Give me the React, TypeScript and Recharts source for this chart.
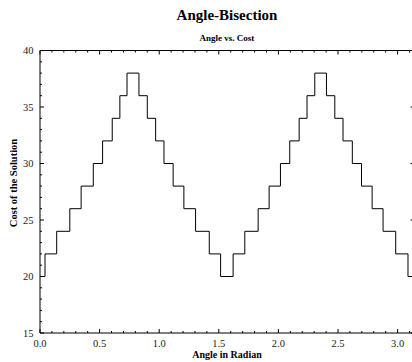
import React from 'react';
import { LineChart, Line, XAxis, YAxis } from 'recharts';

// step changes of the cost
const angles = [0, 0.042, 0.14, 0.25, 0.345, 0.447, 0.525, 0.606, 0.67, 0.73, 0.83, 0.9, 0.97, 1.04, 1.117, 1.207, 1.305, 1.42, 1.515, 1.62, 1.718, 1.83, 1.922, 2.017, 2.095, 2.174, 2.24, 2.305, 2.403, 2.473, 2.542, 2.62, 2.697, 2.786, 2.878, 2.984, 3.087, 3.1416];
const costs = [20, 22, 24, 26, 28, 30, 32, 34, 36, 38, 36, 34, 32, 30, 28, 26, 24, 22, 20, 22, 24, 26, 28, 30, 32, 34, 36, 38, 36, 34, 32, 30, 28, 26, 24, 22, 20, 20];

const xTicks = [0, 0.1, 0.2, 0.3, 0.4, 0.5, 0.6, 0.7, 0.8, 0.9, 1.0, 1.1, 1.2, 1.3, 1.4, 1.5, 1.6, 1.7, 1.8, 1.9, 2.0, 2.1, 2.2, 2.3, 2.4, 2.5, 2.6, 2.7, 2.8, 2.9, 3.0, 3.1];
const yTicks = [15, 16, 17, 18, 19, 20, 21, 22, 23, 24, 25, 26, 27, 28, 29, 30, 31, 32, 33, 34, 35, 36, 37, 38, 39, 40];
const yMajor = [15, 20, 25, 30, 35, 40];

const data = angles.map((a, i) => ({ angle: a, cost: costs[i] }));

const FONT = '"Liberation Serif", "Times New Roman", serif';
const isMajorX = (v: number) => Math.abs(v * 2 - Math.round(v * 2)) < 1e-6;

const BottomTick = (props: any) => {
  const { x, y, payload } = props;
  const major = isMajorX(payload.value);
  return (
    <g>
      <line x1={x} x2={x} y1={y} y2={y - (major ? 4 : 2)} stroke="#000" />
      {major && (
        <text x={x} y={y + 14} textAnchor="middle" fontSize={10.5} fontFamily={FONT} fill="#222">
          {payload.value.toFixed(1)}
        </text>
      )}
    </g>
  );
};

const TopTick = (props: any) => {
  const { x, y, payload } = props;
  const major = isMajorX(payload.value);
  return <line x1={x} x2={x} y1={y} y2={y + (major ? 4 : 2)} stroke="#000" />;
};

const LeftTick = (props: any) => {
  const { x, y, payload } = props;
  const major = yMajor.includes(payload.value);
  return (
    <g>
      <line x1={x} x2={x + (major ? 4 : 2)} y1={y} y2={y} stroke="#000" />
      {major && (
        <text x={x - 6.5} y={y + 3.7} textAnchor="end" fontSize={10.5} fontFamily={FONT} fill="#222">
          {payload.value}
        </text>
      )}
    </g>
  );
};

const RightTick = (props: any) => {
  const { x, y } = props;
  return <line x1={x} x2={x - 4} y1={y} y2={y} stroke="#000" />;
};

export default function App() {
  return (
    <div style={{ position: 'absolute', left: 0, top: 0, width: 412, height: 362, overflow: 'hidden', background: '#fff' }}>
      <LineChart
        width={420}
        height={362}
        data={data}
        margin={{ top: 40.5, left: 10, right: 0.5, bottom: 9 }}
      >
        <XAxis
          xAxisId="bottom"
          dataKey="angle"
          type="number"
          domain={[0, 3.1416]}
          ticks={xTicks}
          interval={0}
          height={20}
          tickSize={0}
          tickMargin={0}
          tick={<BottomTick />}
          stroke="#000"
          allowDataOverflow
        />
        <XAxis
          xAxisId="top"
          orientation="top"
          dataKey="angle"
          type="number"
          domain={[0, 3.1416]}
          ticks={xTicks}
          interval={0}
          height={10}
          tickSize={0}
          tickMargin={0}
          tick={<TopTick />}
          stroke="#000"
          allowDataOverflow
        />
        <YAxis
          yAxisId="left"
          type="number"
          domain={[15, 40]}
          ticks={yTicks}
          interval={0}
          width={30}
          tickSize={0}
          tickMargin={0}
          tick={<LeftTick />}
          stroke="#000"
          allowDataOverflow
        />
        <YAxis
          yAxisId="right"
          orientation="right"
          type="number"
          domain={[15, 40]}
          ticks={yMajor}
          interval={0}
          width={5}
          tickSize={0}
          tickMargin={0}
          tick={<RightTick />}
          stroke="#000"
          allowDataOverflow
        />
        <Line
          xAxisId="bottom"
          yAxisId="left"
          type="stepAfter"
          dataKey="cost"
          stroke="#000"
          strokeWidth={1}
          dot={false}
          activeDot={false}
          isAnimationActive={false}
        />
        <Line
          xAxisId="top"
          yAxisId="right"
          type="stepAfter"
          dataKey="cost"
          stroke="none"
          dot={false}
          activeDot={false}
          isAnimationActive={false}
        />
      </LineChart>
      <svg width={412} height={362} style={{ position: 'absolute', left: 0, top: 0, pointerEvents: 'none' }}>
        <text x={227} y={20} textAnchor="middle" fontSize={15} fontWeight="bold" fontFamily={FONT} fill="#000">
          Angle-Bisection
        </text>
        <text x={227} y={41} textAnchor="middle" fontSize={9} fontWeight="bold" fontFamily={FONT} fill="#000">
          Angle vs. Cost
        </text>
        <text x={227} y={358} textAnchor="middle" fontSize={10} fontWeight="bold" fontFamily={FONT} fill="#000">
          Angle in Radian
        </text>
        <text
          x={0}
          y={0}
          transform="translate(17 183) rotate(-90)"
          textAnchor="middle"
          fontSize={10.5}
          fontWeight="bold"
          fontFamily={FONT}
          fill="#000"
        >
          Cost of the Solution
        </text>
      </svg>
    </div>
  );
}
